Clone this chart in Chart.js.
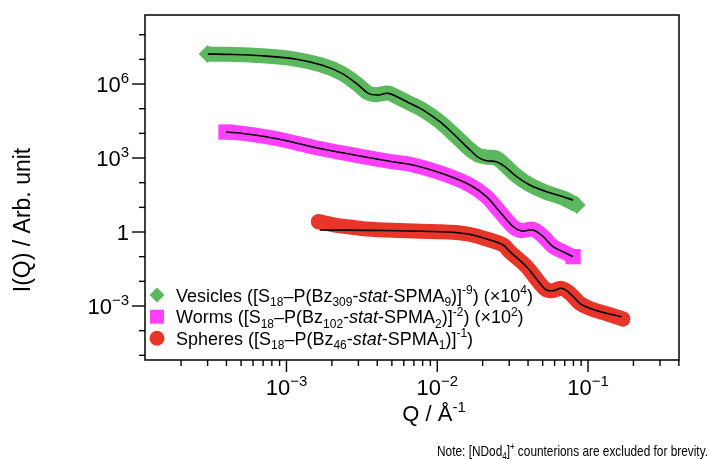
<!DOCTYPE html>
<html><head><meta charset="utf-8">
<script src="https://cdn.jsdelivr.net/npm/chart.js@4.4.0/dist/chart.umd.min.js"></script>
<style>html,body{margin:0;padding:0;background:#fff;}#wrap{width:710px;height:459px;}</style>
</head><body><div id="wrap"><canvas id="c" width="710" height="459"></canvas></div>
<script>
// ---- data ----
const vesQ = [3.0e-4, 4.1e-4, 6.9e-4, 1.14e-3, 1.71e-3, 2.33e-3, 3.0e-3, 3.49e-3, 3.97e-3, 4.74e-3, 5.66e-3, 6.59e-3, 8.07e-3, 1.04e-2, 1.34e-2, 1.65e-2, 1.87e-2, 2.12e-2, 2.47e-2, 2.81e-2, 3.36e-2, 4.11e-2, 5.30e-2, 6.83e-2, 8.4e-2];
const vesI = [1.64e7, 1.6e7, 1.4e7, 1.03e7, 5.9e6, 2.7e6, 9.1e5, 4.3e5, 3.7e5, 4.3e5, 2.6e5, 1.65e5, 8.8e4, 2.96e4, 7.3e3, 2.2e3, 1.3e3, 1.1e3, 1.0e3, 5.2e2, 1.9e2, 82, 40, 24, 12.4];
const vesFitQ = [3.01e-4, 4.13e-4, 6.88e-4, 1.14e-3, 1.71e-3, 2.33e-3, 3.0e-3, 3.49e-3, 3.97e-3, 4.74e-3, 5.66e-3, 6.59e-3, 8.07e-3, 1.04e-2, 1.34e-2, 1.65e-2, 1.87e-2, 2.12e-2, 2.47e-2, 2.81e-2, 3.36e-2, 4.11e-2, 5.30e-2, 6.83e-2, 7.96e-2];
const vesFitI = [1.64e7, 1.6e7, 1.4e7, 1.03e7, 5.88e6, 2.71e6, 9.1e5, 4.19e5, 3.57e5, 4.19e5, 2.63e5, 1.65e5, 8.8e4, 2.96e4, 7.3e3, 2.11e3, 1.07e3, 776, 708, 444, 175, 80, 43, 27, 19.8];

const wormQ = [3.97e-4, 5.32e-4, 8.85e-4, 1.47e-3, 2.45e-3, 4.73e-3, 6.93e-3, 1.15e-2, 1.65e-2, 2.12e-2, 2.60e-2, 3.19e-2, 3.62e-2, 4.32e-2, 5.04e-2, 5.86e-2, 6.83e-2, 7.96e-2];
const wormI = [1.13e4, 9.7e3, 5.9e3, 2.87e3, 1.55e3, 755, 520, 205, 80, 27, 6.65, 1.64, 1.15, 1.3, 0.66, 0.26, 0.16, 0.1];
const wormFitQ = [3.97e-4, 5.32e-4, 8.85e-4, 1.47e-3, 2.45e-3, 4.73e-3, 6.93e-3, 1.15e-2, 1.65e-2, 2.12e-2, 2.60e-2, 3.19e-2, 3.62e-2, 4.32e-2, 5.04e-2, 5.86e-2, 6.83e-2, 7.96e-2];
const wormFitI = [1.13e4, 9.66e3, 5.89e3, 2.87e3, 1.55e3, 755, 520, 205, 80, 27, 6.65, 1.64, 1.10, 1.21, 0.645, 0.254, 0.159, 0.0997];

const sphQ = [1.63e-3, 2.10e-3, 2.64e-3, 3.42e-3, 5.66e-3, 9.42e-3, 1.57e-2, 2.23e-2, 2.74e-2, 3.03e-2, 3.91e-2, 4.79e-2, 5.30e-2, 5.86e-2, 6.67e-2, 7.57e-2, 8.82e-2, 0.1026, 0.1324, 0.170];
const sphI = [2.62, 1.92, 1.59, 1.32, 1.15, 1.05, 0.845, 0.474, 0.297, 0.159, 0.0392, 8.3e-3, 4.5e-3, 4.2e-3, 5.2e-3, 3.3e-3, 1.29e-3, 8.0e-4, 4.9e-4, 3.0e-4];
const sphFitQ = [1.66e-3, 3.40e-3, 5.66e-3, 9.42e-3, 1.57e-2, 2.23e-2, 2.74e-2, 3.03e-2, 3.91e-2, 4.79e-2, 5.30e-2, 5.86e-2, 6.67e-2, 7.57e-2, 8.82e-2, 0.1026, 0.1324, 0.1665];
const sphFitI = [1.2, 1.17, 1.12, 1.05, 0.845, 0.474, 0.297, 0.159, 0.0392, 8.33e-3, 4.46e-3, 4.18e-3, 5.22e-3, 3.27e-3, 1.29e-3, 8.07e-4, 5.06e-4, 3.69e-4];

const seriesColors = ['#5cb85c', '#ff40ff', '#e8352a'];
const seriesStyles = ['rectRot', 'rect', 'circle'];

// tick labels
const yMajorTicks = [1e6, 1e3, 1, 1e-3];
const yMajorLabels = [['10', '6'], ['10', '3'], ['1', ''], ['10', '\u22123']];
const xMajorTicks = [1e-3, 1e-2, 1e-1];
const xMajorLabels = [['10', '\u22123'], ['10', '\u22122'], ['10', '\u22121']];

// legend texts: [text, kind]
const legendVes = [['Vesicles ([S',''],['18','sub'],['\u2013P(Bz',''],['309','sub'],['-',''],['stat','it'],['-SPMA',''],['9','sub'],[')]',''],['-9','sup'],[') (\u00d710',''],['4','sup'],[')','']];
const legendWorm = [['Worms ([S',''],['18','sub'],['\u2013P(Bz',''],['102','sub'],['-',''],['stat','it'],['-SPMA',''],['2','sub'],[')]',''],['-2','sup'],[') (\u00d710',''],['2','sup'],[')','']];
const legendSph = [['Spheres ([S',''],['18','sub'],['\u2013P(Bz',''],['46','sub'],['-',''],['stat','it'],['-SPMA',''],['1','sub'],[')]',''],['-1','sup'],[')','']];
const xTitle = [['Q / \u00c5',''],['-1','sup']];
const yTitle = 'I(Q) / Arb. unit';
const noteText = [['Note: [NDod',''],['4','sub'],[']',''],['+','sup'],[' counterions are excluded for brevity.','']];

// ---- helpers ----
const FAM = '"Liberation Sans", Arial, Helvetica, sans-serif';
function fontFor(kind, size){
  if (kind === 'sub' || kind === 'sup') return Math.round(size * 0.68) + 'px ' + FAM;
  if (kind === 'it') return 'italic ' + size + 'px ' + FAM;
  return size + 'px ' + FAM;
}
function richWidth(ctx, segs, size){
  let w = 0;
  for (const s of segs){ ctx.font = fontFor(s[1], size); w += ctx.measureText(s[0]).width; }
  return w;
}
function drawRich(ctx, x, y, segs, size, align, sx){
  sx = sx || 1;
  const w = richWidth(ctx, segs, size) * sx;
  let cx = align === 'right' ? x - w : (align === 'center' ? x - w / 2 : x);
  ctx.save();
  ctx.translate(cx, y);
  ctx.scale(sx, 1);
  ctx.textAlign = 'left'; ctx.textBaseline = 'alphabetic';
  let px = 0;
  for (const s of segs){
    ctx.font = fontFor(s[1], size);
    const dy = s[1] === 'sup' ? -size * 0.42 : (s[1] === 'sub' ? size * 0.24 : 0);
    ctx.fillText(s[0], px, dy);
    px += ctx.measureText(s[0]).width;
  }
  ctx.restore();
}
function pts(qs, is){ return qs.map((q, i) => ({x: q, y: is[i]})); }
function endRadius(r){ return (c) => (c.dataIndex === 0 || c.dataIndex === c.dataset.data.length - 1) ? r : 0; }

const decor = {
  id: 'decor',
  afterDraw(chart){
    const ctx = chart.ctx, a = chart.chartArea, xs = chart.scales.x, ys = chart.scales.y;
    ctx.save();
    ctx.strokeStyle = '#000'; ctx.fillStyle = '#000';
    // frame
    ctx.lineWidth = 1.5;
    ctx.strokeRect(a.left, a.top, a.right - a.left, a.bottom - a.top);
    // y ticks
    ctx.lineWidth = 1.4;
    for (let k = -5; k <= 8; k++){
      const v = Math.pow(10, k); const p = ys.getPixelForValue(v);
      if (p < a.top - 0.5 || p > a.bottom + 0.5) continue;
      const major = yMajorTicks.some(t => Math.abs(Math.log10(t) - k) < 1e-9);
      ctx.beginPath(); ctx.moveTo(a.left - (major ? 13 : 6), p); ctx.lineTo(a.left, p); ctx.stroke();
    }
    // x ticks
    for (let n = -4; n <= 0; n++){
      for (let m = 1; m <= 9; m++){
        const v = m * Math.pow(10, n);
        if (v < xs.min || v > xs.max) continue;
        const p = xs.getPixelForValue(v);
        const major = m === 1;
        ctx.beginPath(); ctx.moveTo(p, a.bottom); ctx.lineTo(p, a.bottom + (major ? 12 : 6)); ctx.stroke();
      }
    }
    // y tick labels
    const tf = 22;
    yMajorTicks.forEach((v, i) => {
      const p = ys.getPixelForValue(v);
      const lab = yMajorLabels[i];
      const segs = lab[1] ? [[lab[0], ''], [lab[1], 'sup']] : [[lab[0], '']];
      drawRich(ctx, a.left - 16, p + tf * 0.36, segs, tf, 'right');
    });
    // x tick labels
    xMajorTicks.forEach((v, i) => {
      const p = xs.getPixelForValue(v);
      const lab = xMajorLabels[i];
      drawRich(ctx, p, a.bottom + 35, [[lab[0], ''], [lab[1], 'sup']], tf, 'center');
    });
    // axis titles
    drawRich(ctx, 434, a.bottom + 61, xTitle, 22, 'center');
    ctx.save();
    ctx.translate(30, 220);
    ctx.rotate(-Math.PI / 2);
    ctx.font = 23 + 'px ' + FAM; ctx.textAlign = 'center'; ctx.textBaseline = 'alphabetic';
    ctx.fillText(yTitle, 0, 0);
    ctx.restore();
    // legend
    const lx = 157, rows = [295, 316.7, 338.3], lf = 18;
    const legs = [legendVes, legendWorm, legendSph];
    rows.forEach((ry, i) => {
      ctx.fillStyle = seriesColors[i];
      ctx.beginPath();
      if (i === 0){ ctx.moveTo(lx - 7.5, ry); ctx.lineTo(lx, ry - 7.5); ctx.lineTo(lx + 7.5, ry); ctx.lineTo(lx, ry + 7.5); ctx.closePath(); }
      else if (i === 1){ ctx.rect(lx - 7, ry - 7, 14, 14); }
      else { ctx.arc(lx, ry, 7.5, 0, Math.PI * 2); }
      ctx.fill();
      ctx.fillStyle = '#000';
      drawRich(ctx, 176, ry + 6.5, legs[i], lf, 'left');
    });
    // note
    drawRich(ctx, 708, 456, noteText, 15, 'right', 0.79);
    ctx.restore();
  }
};

const bandCommon = { showLine: true, borderWidth: 15, tension: 0.35, borderJoinStyle: 'round', pointBorderWidth: 0, order: 2 };
const fitCommon = { showLine: true, borderWidth: 1.6, borderColor: '#000', tension: 0.35, pointRadius: 0, order: 1 };

new Chart(document.getElementById('c'), {
  type: 'scatter',
  data: {
    datasets: [
      Object.assign({}, bandCommon, { label: 'Vesicles', data: pts(vesQ, vesI), borderColor: seriesColors[0], backgroundColor: seriesColors[0], pointStyle: seriesStyles[0], pointRadius: endRadius(9), borderCapStyle: 'butt' }),
      Object.assign({}, bandCommon, { label: 'Worms', data: pts(wormQ, wormI), borderColor: seriesColors[1], backgroundColor: seriesColors[1], pointStyle: seriesStyles[1], pointRadius: endRadius(10.8), borderCapStyle: 'butt' }),
      Object.assign({}, bandCommon, { label: 'Spheres', data: pts(sphQ, sphI), borderColor: seriesColors[2], backgroundColor: seriesColors[2], pointStyle: seriesStyles[2], pointRadius: endRadius(7.5), borderCapStyle: 'round' }),
      Object.assign({}, fitCommon, { label: 'Vesicles fit', data: pts(vesFitQ, vesFitI) }),
      Object.assign({}, fitCommon, { label: 'Worms fit', data: pts(wormFitQ, wormFitI) }),
      Object.assign({}, fitCommon, { label: 'Spheres fit', data: pts(sphFitQ, sphFitI) })
    ]
  },
  options: {
    responsive: false, animation: false, devicePixelRatio: 1,
    layout: { padding: { left: 0, right: 31, top: 15, bottom: 0 } },
    plugins: { legend: { display: false }, tooltip: { enabled: false } },
    elements: { point: { hoverRadius: 0 } },
    scales: {
      x: { type: 'logarithmic', min: 1.153e-4, max: 0.401, ticks: { display: false }, grid: { display: false }, border: { display: false }, afterFit(s){ s.height = 99; } },
      y: { type: 'logarithmic', min: 6.46e-6, max: 6.3e8, ticks: { display: false }, grid: { display: false }, border: { display: false }, afterFit(s){ s.width = 145; } }
    }
  },
  plugins: [decor]
});
</script></body></html>
